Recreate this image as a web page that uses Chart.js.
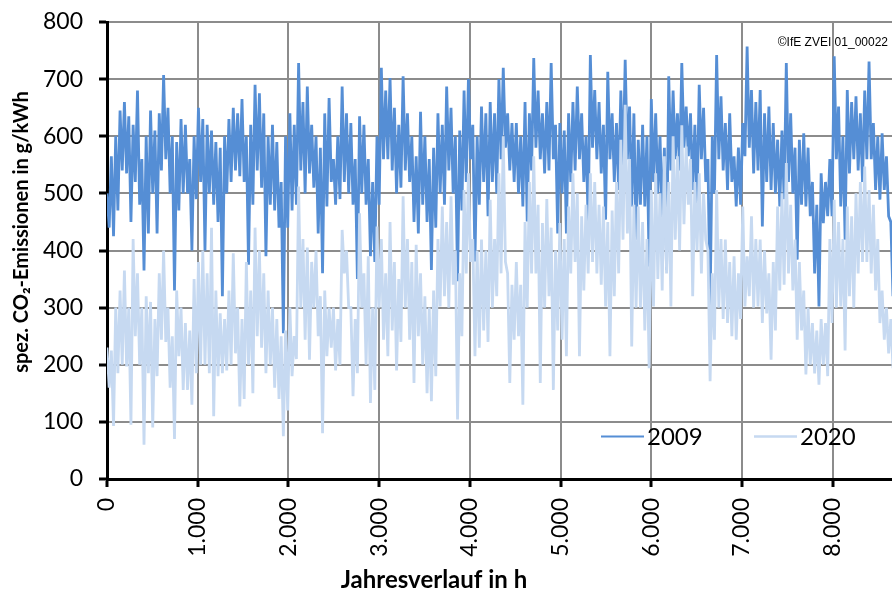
<!DOCTYPE html>
<html><head><meta charset="utf-8">
<script src="https://cdn.jsdelivr.net/npm/chart.js@4/dist/chart.umd.min.js"></script>
<style>html,body{margin:0;padding:0;background:#fff}#wrap{width:892px;height:592px}</style>
</head><body><div id="wrap"><canvas id="c" width="892" height="592"></canvas></div>
<script>
// Hours of the year (one reading per day, alternating daily high / daily low)
const hours = Array.from({length: 366}, (_, i) => i * 24);
const xTicks = [0, 1000, 2000, 3000, 4000, 5000, 6000, 7000, 8000];
const yTicks = [0, 100, 200, 300, 400, 500, 600, 700, 800];
const seriesNames = ['2009', '2020'];

const v2009 = [
500,440,565,425, 600,470,645,540, 660,535,635,450, 620,520,680,480, 560,365,600,430,
645,500,610,430, 640,540,707,560, 650,500,600,330, 590,470,630,500, 620,500,560,400,
600,490,650,520, 630,400,620,500, 610,480,590,450, 580,320,600,500, 630,520,650,540,
640,530,665,520, 600,375,620,480, 690,540,675,510, 640,390,600,480, 620,470,590,440,
520,255,600,440, 640,470,620,480, 728,540,660,500, 687,535,620,510, 600,430,580,360,
640,477,667,520, 560,480,600,490, 687,520,640,500, 623,480,560,350, 635,500,620,480,
560,390,520,380, 600,480,720,560, 680,560,702,540, 650,500,620,510, 705,540,640,520,
600,450,565,430, 643,480,600,450, 560,366,580,440, 640,500,620,480, 687,540,650,500,
600,346,610,470, 680,520,700,560, 620,381,600,480, 652,520,640,460, 660,520,640,500,
700,560,720,580, 640,540,623,520, 623,500,600,477, 660,451,640,540, 737,580,680,560,
640,535,660,540, 728,560,620,430, 623,500,610,430, 640,520,660,540, 687,560,640,520,
600,448,742,580, 681,560,660,535, 620,454,713,560, 640,520,623,506, 680,540,734,560,
652,477,640,419, 594,480,620,477, 600,372,665,520, 640,500,600,450, 580,366,705,540,
680,560,640,540, 728,580,652,565, 640,506,620,477, 690,560,650,520, 560,302,600,500,
742,560,670,540, 623,506,640,520, 565,477,580,480, 623,565,757,580, 681,535,660,540,
681,442,640,520, 652,506,623,500, 594,477,610,490, 728,520,640,500, 580,384,594,480,
605,477,580,460, 520,360,480,302, 535,448,520,460, 560,460,740,560, 652,477,600,419,
681,535,660,560, 670,540,640,520, 680,560,731,560, 623,506,600,489, 605,506,565,460,
450,320,390,273, 420,300
];

const v2020 = [
230,160,225,93, 300,185,330,200, 365,197,300,95, 420,250,360,200, 300,60,320,185,
310,90,280,180, 360,244,400,240, 300,160,250,70, 330,215,300,156, 273,156,260,130,
350,185,380,200, 400,200,360,185, 440,110,330,180, 290,185,280,190, 330,200,395,220,
300,127,280,140, 380,200,330,150, 440,250,400,230, 360,185,330,200, 300,160,280,140,
250,75,260,120, 300,180,250,210, 512,300,420,244, 405,209,380,300, 400,250,320,80,
330,215,300,230, 300,190,280,200, 436,360,400,300, 300,145,280,185, 465,300,360,200,
390,133,300,156, 442,300,420,244, 360,215,450,260, 380,190,350,240, 495,300,420,244,
380,168,410,250, 360,200,320,150, 300,136,330,180, 420,302,477,320, 450,300,495,340,
400,104,360,250, 506,360,535,380, 420,215,400,230, 419,260,400,240, 489,300,420,320,
535,360,600,380, 360,168,340,244, 380,250,340,130, 450,300,520,360, 565,360,480,168,
448,300,490,320, 440,156,400,260, 448,244,420,215, 477,360,535,380, 500,215,460,330,
480,360,535,380, 520,360,480,340, 477,302,450,215, 470,320,520,360, 594,419,655,430,
560,232,480,300, 477,300,450,260, 420,194,506,302, 535,350,500,330, 565,360,520,302,
600,419,565,400, 619,446,582,480, 560,320,520,400, 535,360,500,419, 400,171,360,244,
506,300,420,280, 419,273,380,250, 390,244,360,280, 477,302,390,320, 460,300,420,302,
419,273,400,290, 360,209,380,260, 477,330,500,340, 553,360,480,330, 419,244,380,260,
330,183,300,200, 273,185,260,165, 280,200,273,180, 420,273,489,300, 450,302,420,225,
477,320,460,300, 500,360,520,380, 547,380,506,360, 480,330,420,273, 330,244,300,220,
280,194,250,200, 260,190
];

const COL2009 = '#558ED5';
const COL2020 = '#C6D9F1';
const GRID_MAJOR = '#8c8c8c';
const GRID_MINOR = '#c4c4c4';

const overlay = {
  id: 'overlay',
  afterDraw(chart) {
    const ctx = chart.ctx;
    ctx.save();
    // legend
    ctx.lineWidth = 2;
    ctx.strokeStyle = COL2009;
    ctx.beginPath(); ctx.moveTo(601, 436.5); ctx.lineTo(644, 436.5); ctx.stroke();
    ctx.strokeStyle = COL2020;
    ctx.lineWidth = 2.5;
    ctx.beginPath(); ctx.moveTo(754, 436.5); ctx.lineTo(797, 436.5); ctx.stroke();
    ctx.fillStyle = '#000';
    ctx.font = '24px Lato';
    ctx.textBaseline = 'middle';
    ctx.textAlign = 'left';
    ctx.fillText(seriesNames[0], 647, 437);
    ctx.fillText(seriesNames[1], 800, 437);
    // copyright
    ctx.font = '12px "Liberation Sans"';
    ctx.textAlign = 'right';
    ctx.fillText('\u00A9IfE ZVEI 01_00022', 888, 43);
    // axis titles
    ctx.font = 'bold 24px Lato';
    ctx.textAlign = 'center';
    ctx.fillText('Jahresverlauf in h', 434, 580);
    ctx.font = 'bold 20px Lato';
    ctx.translate(22, 232);
    ctx.rotate(-Math.PI / 2);
    ctx.fillText('spez. CO\u2082-Emissionen in g/kWh', 0, 0);
    ctx.restore();
  }
};

const isMajor = v => v % 100 === 0;

new Chart(document.getElementById('c'), {
  type: 'line',
  data: {
    datasets: [
      { label: seriesNames[0], data: hours.map((h, i) => ({x: h, y: v2009[i]})),
        borderColor: COL2009, backgroundColor: COL2009, borderWidth: 2.8, pointRadius: 0, tension: 0, order: 2 },
      { label: seriesNames[1], data: hours.map((h, i) => ({x: h, y: v2020[i]})),
        borderColor: COL2020, backgroundColor: COL2020, borderWidth: 2.8, pointRadius: 0, tension: 0, order: 1 }
    ]
  },
  options: {
    responsive: false,
    devicePixelRatio: 1,
    animation: false,
    events: [],
    layout: { padding: { top: 22, right: 0, bottom: 0, left: 0 } },
    plugins: { legend: { display: false }, tooltip: { enabled: false } },
    scales: {
      x: {
        type: 'linear', min: 0, max: 8653,
        afterBuildTicks: s => { s.ticks = xTicks.map(v => ({value: v})); },
        afterFit: s => { s.height = 113; s.paddingLeft = 0; s.paddingRight = 0; },
        ticks: { autoSkip: false, minRotation: 90, maxRotation: 90, padding: 11,
          color: '#000', font: { family: 'Lato', size: 23 },
          callback: v => v === 0 ? '0' : v.toLocaleString('de-DE') },
        grid: { color: GRID_MAJOR, lineWidth: 2, tickColor: '#000', tickLength: 8, tickWidth: 3 },
        border: { color: '#000', width: 3 }
      },
      y: {
        min: 0, max: 800,
        afterBuildTicks: s => { const t = []; for (const v of yTicks) { t.push({value: v}); if (v < 800) t.push({value: v + 50}); } s.ticks = t; },
        afterFit: s => { s.width = 107; s.paddingTop = 0; s.paddingBottom = 0; },
        ticks: { padding: 16, color: '#000', font: { family: 'Lato', size: 23 },
          callback: v => isMajor(v) ? String(v) : '' },
        grid: {
          color: c => isMajor(c.tick.value) ? GRID_MAJOR : GRID_MINOR,
          lineWidth: c => isMajor(c.tick.value) ? 2 : 1.5,
          tickColor: c => isMajor(c.tick.value) ? '#000' : 'rgba(0,0,0,0)',
          tickLength: 8, tickWidth: 3
        },
        border: { color: '#000', width: 3 }
      }
    }
  },
  plugins: [overlay]
});
</script>
</body></html>
